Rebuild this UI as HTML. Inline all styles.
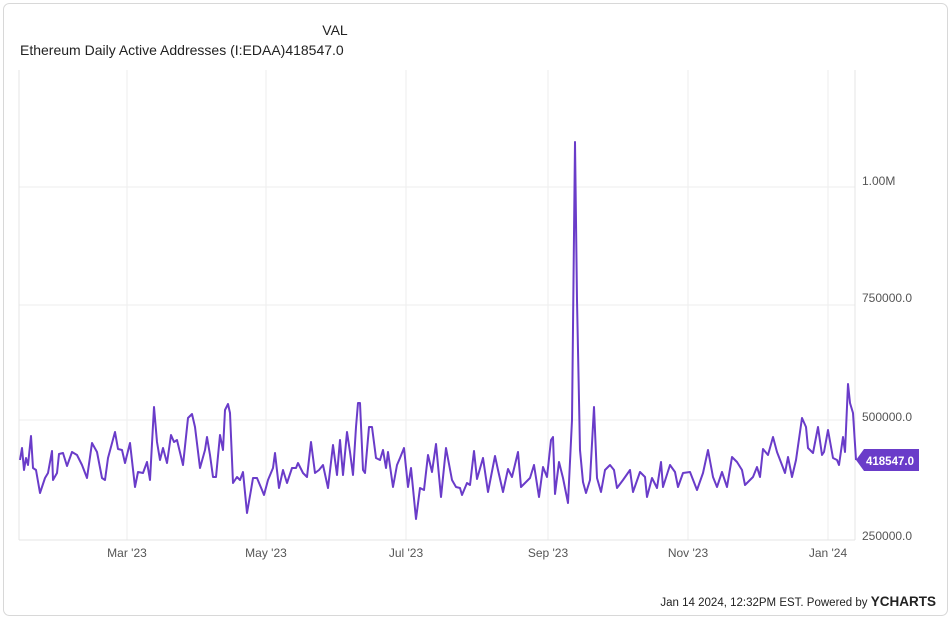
<!DOCTYPE html>
<html><head><meta charset="utf-8"><style>
body{margin:0;background:#fff;font-family:"Liberation Sans",Arial,sans-serif;}
</style></head><body>
<svg width="952" height="622" xmlns="http://www.w3.org/2000/svg" font-family="Liberation Sans, Arial, sans-serif">
<rect x="3.5" y="3.5" width="944" height="612" rx="6" fill="#fff" stroke="#d8d8d8"/>
<text x="335" y="35" font-size="14" text-anchor="middle" fill="#222">VAL</text>
<text x="20" y="55" font-size="14" fill="#222">Ethereum Daily Active Addresses (I:EDAA)418547.0</text>
<g stroke="#eeeeee" stroke-width="1">
<line x1="127" y1="70" x2="127" y2="540"/><line x1="266" y1="70" x2="266" y2="540"/><line x1="406" y1="70" x2="406" y2="540"/><line x1="548" y1="70" x2="548" y2="540"/><line x1="688" y1="70" x2="688" y2="540"/><line x1="828" y1="70" x2="828" y2="540"/>
<line x1="19" y1="187" x2="855" y2="187"/><line x1="19" y1="305" x2="855" y2="305"/><line x1="19" y1="420" x2="855" y2="420"/>
</g>
<line x1="19" y1="70" x2="19" y2="540" stroke="#e4e4e4"/>
<line x1="19" y1="540" x2="855" y2="540" stroke="#e4e4e4"/>
<line x1="855" y1="70" x2="855" y2="540" stroke="#e4e4e4"/>
<g font-size="12" fill="#555">
<text x="127" y="557" text-anchor="middle">Mar '23</text>
<text x="266" y="557" text-anchor="middle">May '23</text>
<text x="406" y="557" text-anchor="middle">Jul '23</text>
<text x="548" y="557" text-anchor="middle">Sep '23</text>
<text x="688" y="557" text-anchor="middle">Nov '23</text>
<text x="828" y="557" text-anchor="middle">Jan '24</text>
<text x="862" y="185">1.00M</text>
<text x="862" y="302">750000.0</text>
<text x="862" y="421">500000.0</text>
<text x="862" y="540">250000.0</text>
</g>
<polyline fill="none" stroke="#6a3cc9" stroke-width="2" stroke-linejoin="round" points="20,460 22,448 24,470 26,458 28,465 31,436 33,468 36,470 40,493 45,478 48,473 52,451 53,480 57,473 59,454 63,453 67,466 72,452 77,455 82,465 87,478 92,443 97,452 102,478 105,480 108,458 115,432 118,449 122,450 125,463 130,443 135,487 138,472 143,473 147,462 150,480 154,407 157,442 160,460 163,448 167,463 171,435 174,442 177,440 183,465 188,418 192,414 195,427 200,468 205,450 207,437 210,455 213,477 216,477 220,435 223,450 225,410 228,404 230,413 233,483 237,477 240,480 243,472 247,513 251,490 253,478 257,478 262,490 264,495 268,480 273,468 275,453 279,488 283,470 287,483 292,468 296,468 298,463 303,473 307,477 311,442 315,473 319,470 323,465 328,488 333,445 337,475 340,440 343,475 347,432 350,452 353,475 356,427 358,403 360,403 363,470 365,473 369,427 372,427 376,458 380,460 383,450 386,468 388,452 393,487 397,465 400,458 404,448 408,487 411,468 416,519 420,488 424,490 428,455 432,472 436,444 441,497 446,448 452,480 456,487 460,488 462,495 467,483 470,485 474,451 477,479 483,458 488,492 495,456 498,470 503,492 508,469 512,477 518,452 521,487 530,478 534,465 539,497 543,467 547,477 551,440 553,437 555,494 559,462 563,478 568,503 572,420 575,142 577,300 580,450 583,482 586,493 590,480 594,407 597,478 601,492 605,470 610,465 614,470 617,488 623,480 630,470 633,492 640,472 645,477 647,497 652,478 657,488 661,462 663,487 670,465 675,472 678,487 683,473 690,472 697,490 703,473 708,450 713,477 717,487 722,472 727,487 732,457 737,462 742,470 745,485 753,477 757,467 760,477 763,449 768,455 773,437 777,452 782,465 785,473 788,457 792,477 796,460 802,418 806,427 808,448 813,453 818,427 822,455 824,452 828,430 833,458 837,460 839,465 843,437 845,452 848,384 850,403 853,413 856,460"/>
<path d="M856,460 L864,449 L919,449 L919,471 L864,471 Z" fill="#6a3cc9"/>
<text x="866" y="465" font-size="11.5" font-weight="bold" fill="#fff">418547.0</text>
<text x="936" y="606" font-size="11.5" fill="#222" text-anchor="end">Jan 14 2024, 12:32PM EST. Powered by <tspan font-size="13.5" font-weight="bold">YCHARTS</tspan></text>
</svg>
</body></html>
